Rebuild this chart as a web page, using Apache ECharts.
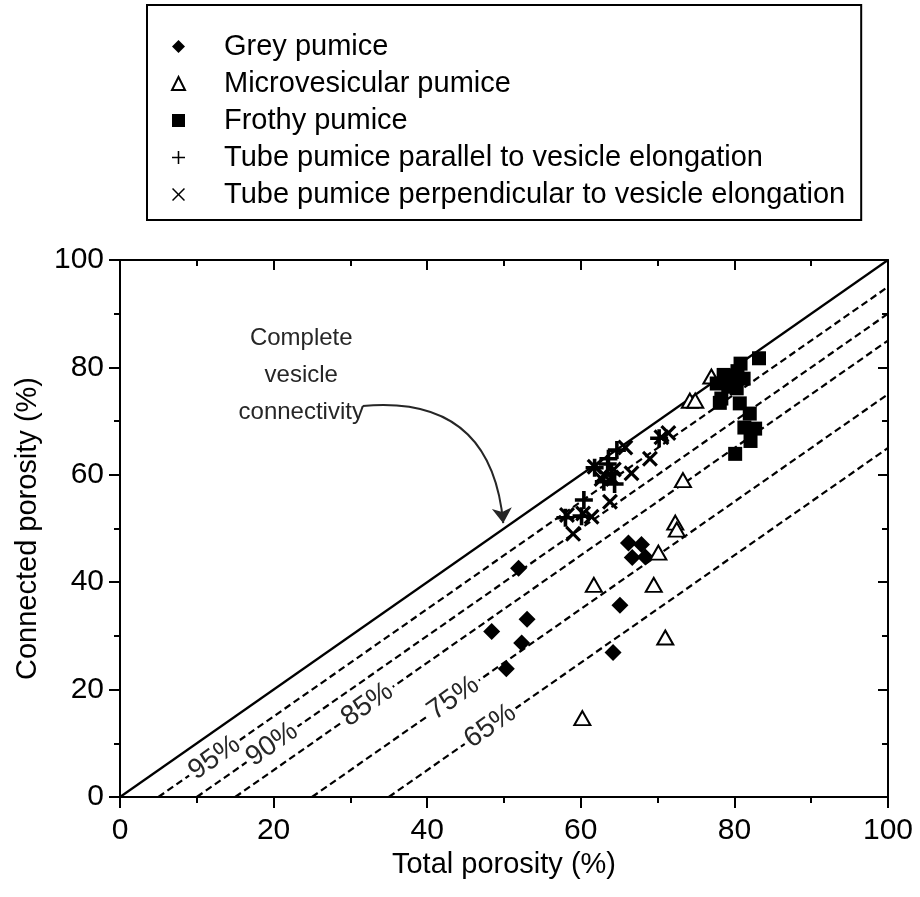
<!DOCTYPE html>
<html>
<head>
<meta charset="utf-8">
<title>Connected vs total porosity</title>
<script src="https://cdn.jsdelivr.net/npm/echarts@6/dist/echarts.min.js"></script>
<style>
    html, body { margin: 0; padding: 0; background: #fff; }
    #chart { width: 920px; height: 897px; }
</style>
</head>
<body>
<div id="chart"></div>
<script>
// ── data: [total porosity, connected porosity] ──

var greyPumice = [
    [51.9, 42.6], [53.0, 33.1], [48.4, 30.8], [52.3, 28.7], [50.3, 23.9],
    [65.1, 35.7], [64.2, 26.9], [66.2, 47.3], [67.9, 47.0], [66.7, 44.6], [68.4, 44.7]
];
var microPumice = [
    [77.0, 78.3], [74.2, 73.8], [74.9, 73.8], [73.3, 59.0], [72.3, 51.1], [72.5, 49.8],
    [70.1, 45.5], [61.7, 39.5], [69.5, 39.5], [71.0, 29.7], [60.2, 14.7]
];
var frothyPumice = [
    [83.2, 81.7], [80.8, 80.7], [80.4, 79.3], [78.6, 78.6], [80.1, 78.3], [81.2, 77.9],
    [77.7, 77.0], [79.2, 76.4], [80.3, 76.1], [78.3, 74.2], [78.1, 73.4], [80.7, 73.3],
    [82.0, 71.4], [81.3, 68.8], [82.7, 68.6], [82.1, 66.3], [80.1, 63.9]
];
var tubeParallel = [
    [60.4, 55.3], [60.1, 52.3], [58.0, 52.0], [64.7, 64.6], [61.8, 61.3], [63.5, 62.0],
    [64.0, 60.2], [63.0, 58.7], [64.4, 58.3], [70.2, 66.8], [63.6, 63.0]
];
var tubePerpendicular = [
    [58.2, 52.5], [60.3, 52.8], [61.4, 52.2], [59.0, 49.0], [63.8, 55.0], [65.8, 65.1],
    [61.8, 61.5], [63.0, 60.0], [64.3, 61.0], [62.7, 59.2], [66.6, 60.3], [69.0, 63.0],
    [70.5, 67.0], [71.4, 67.8], [64.0, 59.5]
];

// reference lines: connected = total - offset
var lineOffsets = [5, 10, 15, 25, 35];
var lineLabels = ['95%', '90%', '85%', '75%', '65%'];
var lineLabelX = [12.3, 19.8, 32.2, 43.4, 48.2];

var seriesNames = [
    'Grey pumice',
    'Microvesicular pumice',
    'Frothy pumice',
    'Tube pumice parallel to vesicle elongation',
    'Tube pumice perpendicular to vesicle elongation'
];

var annotationText = 'Complete\nvesicle\nconnectivity';
var annotationAt = [23.6, 78.6];
var arrowCoords = [[31.6, 72.8], [49.9, 51.0]];

// ── symbols ──

var FONT = '"Liberation Sans", Arial, Helvetica, sans-serif';
var TEXT_GREY = '#262626';
var plusPath = 'path://M-1,-5H1V-1H5V1H1V5H-1V1H-5V-1H-1Z';
var crossPath = 'path://M-5,-3.6L-3.6,-5L0,-1.4L3.6,-5L5,-3.6L1.4,0L5,3.6L3.6,5L0,1.4L-3.6,5L-5,3.6L-1.4,0Z';
var plusThin = 'path://M-0.6,-5H0.6V-0.6H5V0.6H0.6V5H-0.6V0.6H-5V-0.6H-0.6Z';
var crossThin = 'path://M-5,-4.2L-4.2,-5L0,-0.8L4.2,-5L5,-4.2L0.8,0L5,4.2L4.2,5L0,0.8L-4.2,5L-5,4.2L-0.8,0Z';

var chart = echarts.init(document.getElementById('chart'), null, { renderer: 'canvas' });

function refLine(off, solid) {
    return {
        type: 'line',
        data: [[off, 0], [100, 100 - off]],
        symbol: 'none',
        silent: true,
        z: 1,
        lineStyle: { color: '#000', width: 2.2, opacity: 1, type: solid ? 'solid' : [7, 4] },
    };
}

var labelPoints = lineLabels.map(function (t, i) {
    return { name: t, value: [lineLabelX[i], lineLabelX[i] - lineOffsets[i]] };
});

var series = [refLine(0, true)];
lineOffsets.forEach(function (o) { series.push(refLine(o, false)); });

series.push({
    type: 'scatter',
    data: labelPoints,
    symbolSize: 0,
    silent: true,
    z: 3,
    itemStyle: { opacity: 1 },
    label: {
        show: true,
        position: 'inside',
        formatter: '{b}',
        rotate: 35,
        fontSize: 28,
        fontFamily: FONT,
        color: TEXT_GREY,
        opacity: 1,
        backgroundColor: '#fff',
        padding: [0, 3],
    },
});

series.push({
    type: 'scatter',
    data: [annotationAt],
    symbolSize: 0,
    silent: true,
    itemStyle: { opacity: 1 },
    label: {
        show: true,
        position: 'inside',
        formatter: annotationText,
        fontSize: 24,
        lineHeight: 37,
        fontFamily: FONT,
        color: TEXT_GREY,
        opacity: 1,
        align: 'center',
    },
});

series.push({
    type: 'lines',
    coordinateSystem: 'cartesian2d',
    data: [{ coords: arrowCoords }],
    symbol: ['none', 'arrow'],
    symbolSize: [0, 15],
    silent: true,
    lineStyle: { color: TEXT_GREY, width: 2, curveness: 0.5, opacity: 1 },
});

series.push(
    {
        name: seriesNames[0], type: 'scatter', data: greyPumice, z: 5,
        symbol: 'diamond', symbolSize: 17,
        itemStyle: { color: '#000', opacity: 1 },
    },
    {
        name: seriesNames[1], type: 'scatter', data: microPumice, z: 5,
        symbol: 'triangle', symbolSize: [16, 14],
        itemStyle: { color: '#fff', borderColor: '#000', borderWidth: 2, opacity: 1 },
    },
    {
        name: seriesNames[2], type: 'scatter', data: frothyPumice, z: 5,
        symbol: 'rect', symbolSize: 14,
        itemStyle: { color: '#000', opacity: 1 },
    },
    {
        name: seriesNames[3], type: 'scatter', data: tubeParallel, z: 5,
        symbol: plusPath, symbolSize: 18,
        itemStyle: { color: '#000', opacity: 1 },
    },
    {
        name: seriesNames[4], type: 'scatter', data: tubePerpendicular, z: 5,
        symbol: crossPath, symbolSize: 16,
        itemStyle: { color: '#000', opacity: 1 },
    }
);

var axisBase = {
    type: 'value',
    min: 0,
    max: 100,
    interval: 20,
    axisLine: { show: true, onZero: false, lineStyle: { color: '#000', width: 2 } },
    splitLine: { show: false },
};

chart.setOption({
    animation: false,
    backgroundColor: '#fff',
    textStyle: { fontFamily: FONT },
    legend: {
        data: [
            { name: seriesNames[0] },
            { name: seriesNames[1] },
            { name: seriesNames[2], itemStyle: { color: '#000' } },
            { name: seriesNames[3], icon: plusThin },
            { name: seriesNames[4], icon: crossThin },
        ],
        orient: 'vertical',
        left: 147,
        top: 5,
        padding: [25, 16, 9, 24],
        itemWidth: 13,
        itemHeight: 13,
        itemGap: 4,
        selectedMode: false,
        borderColor: '#000',
        borderWidth: 2,
        textStyle: {
            fontSize: 29,
            lineHeight: 33,
            color: '#000',
            fontFamily: FONT,
            padding: [0, 0, 0, 34],
        },
    },
    grid: { left: 120, right: 32, top: 260, bottom: 100 },
    xAxis: [
        Object.assign({}, axisBase, {
            position: 'bottom',
            axisTick: { show: true, inside: false, length: 11, lineStyle: { color: '#000', width: 2 } },
            minorTick: { show: true, splitNumber: 2, length: 6, lineStyle: { color: '#000', width: 2 } },
            axisLabel: { fontSize: 30, color: '#000', margin: 19, fontFamily: FONT },
            name: 'Total porosity (%)',
            nameLocation: 'middle',
            nameGap: 50,
            nameTextStyle: { fontSize: 29, color: '#000', fontFamily: FONT },
        }),
        Object.assign({}, axisBase, {
            position: 'top',
            axisTick: { show: true, inside: true, length: 10, lineStyle: { color: '#000', width: 2 } },
            minorTick: { show: true, splitNumber: 2, length: 6, lineStyle: { color: '#000', width: 2 } },
            axisLabel: { show: false },
        }),
    ],
    yAxis: [
        Object.assign({}, axisBase, {
            position: 'left',
            axisTick: { show: true, inside: false, length: 11, lineStyle: { color: '#000', width: 2 } },
            minorTick: { show: true, splitNumber: 2, length: 6, lineStyle: { color: '#000', width: 2 } },
            axisLabel: { fontSize: 30, color: '#000', margin: 16, fontFamily: FONT },
            name: 'Connected porosity (%)',
            nameLocation: 'middle',
            nameGap: 78,
            nameTextStyle: { fontSize: 29, color: '#000', fontFamily: FONT },
        }),
        Object.assign({}, axisBase, {
            position: 'right',
            axisTick: { show: true, inside: true, length: 10, lineStyle: { color: '#000', width: 2 } },
            minorTick: { show: true, splitNumber: 2, length: 6, lineStyle: { color: '#000', width: 2 } },
            axisLabel: { show: false },
        }),
    ],
    series: series,
});

window.addEventListener('resize', function () { chart.resize(); });
</script>
</body>
</html>
